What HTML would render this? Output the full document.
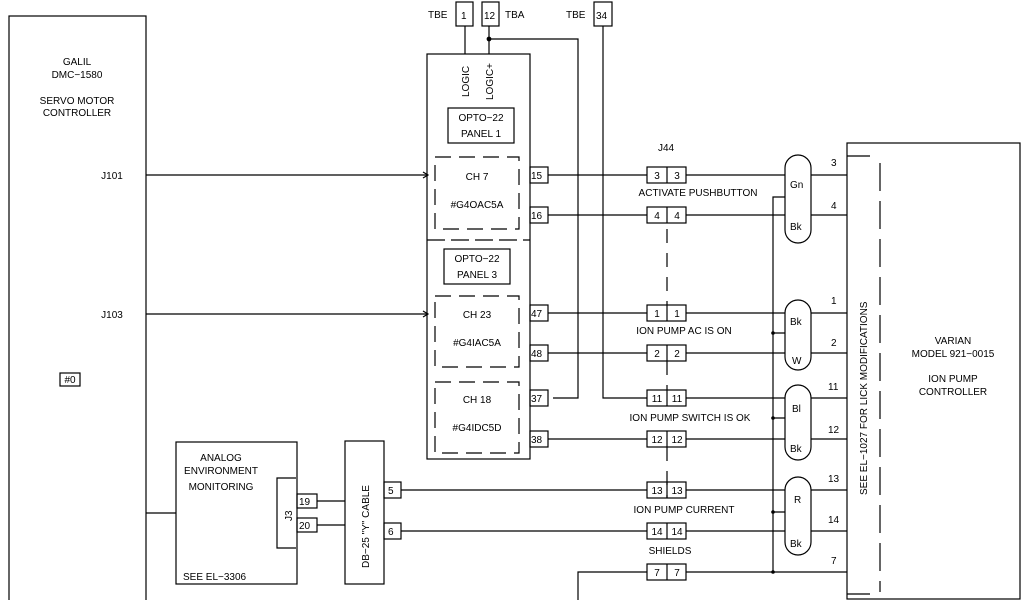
<!DOCTYPE html><html><head><style>body{margin:0;background:#fff}svg{display:block}text{font-family:"Liberation Sans",sans-serif;font-size:10px;fill:#000}</style></head><body>
<svg width="1024" height="600" viewBox="0 0 1024 600" xmlns="http://www.w3.org/2000/svg" stroke="#000" stroke-width="1.2" fill="none">
<!-- left controller -->
<rect x="9" y="16" width="137" height="600"/>
<g stroke="none" text-anchor="middle">
<text x="77" y="65">GALIL</text><text x="77" y="78">DMC−1580</text>
<text x="77" y="104">SERVO MOTOR</text><text x="77" y="116">CONTROLLER</text>
<text x="112" y="179">J101</text><text x="112" y="318">J103</text>
<text x="70" y="383">#0</text></g>
<rect x="60" y="373" width="20" height="13"/>
<line x1="146" y1="175" x2="428" y2="175"/><line x1="146" y1="314" x2="428" y2="314"/>
<path d="M423 172 L428 175 L423 178 M423 311 L428 314 L423 317"/>
<!-- TBE/TBA -->
<rect x="456" y="2" width="17" height="24"/><rect x="482" y="2" width="17" height="24"/><rect x="594" y="2" width="18" height="24"/>
<g stroke="none"><text x="428" y="18">TBE</text><text x="461" y="19">1</text><text x="484" y="19">12</text><text x="505" y="18">TBA</text><text x="566" y="18">TBE</text><text x="596" y="19">34</text></g>
<line x1="465" y1="26" x2="465" y2="54"/><line x1="489" y1="26" x2="489" y2="54"/>
<circle cx="489" cy="39" r="1.8" fill="#000"/>
<polyline points="489,39 578,39 578,398 553,398"/>
<polyline points="603,26 603,398 647,398"/>
<!-- opto box -->
<rect x="427" y="54" width="103" height="405"/>
<line x1="427" y1="240" x2="530" y2="240" stroke-dasharray="18,6"/>
<g stroke="none"><text transform="translate(469,97) rotate(-90)">LOGIC</text><text transform="translate(493,100) rotate(-90)">LOGIC+</text></g>
<rect x="448" y="108" width="66" height="35"/><rect x="444" y="249" width="66" height="35"/>
<g stroke="none" text-anchor="middle"><text x="481" y="121">OPTO−22</text><text x="481" y="137">PANEL 1</text>
<text x="477" y="262">OPTO−22</text><text x="477" y="278">PANEL 3</text>
<text x="477" y="180">CH  7</text><text x="477" y="208">#G4OAC5A</text>
<text x="477" y="318">CH  23</text><text x="477" y="346">#G4IAC5A</text>
<text x="477" y="403">CH  18</text><text x="477" y="431">#G4IDC5D</text></g>
<g stroke-dasharray="16,8"><rect x="435" y="157" width="84" height="72"/><rect x="435" y="296" width="84" height="71"/><rect x="435" y="382" width="84" height="71"/></g>
<!-- terminals -->
<g><rect x="530" y="167" width="18" height="16"/><rect x="530" y="207" width="18" height="16"/><rect x="530" y="305" width="18" height="16"/><rect x="530" y="345" width="18" height="16"/><rect x="530" y="390" width="18" height="16"/><rect x="530" y="431" width="18" height="16"/></g>
<g stroke="none"><text x="531" y="179">15</text><text x="531" y="219">16</text><text x="531" y="317">47</text><text x="531" y="357">48</text><text x="531" y="402">37</text><text x="531" y="443">38</text></g>
<g><line x1="548" y1="175" x2="647" y2="175"/><line x1="548" y1="215" x2="647" y2="215"/><line x1="548" y1="313" x2="647" y2="313"/><line x1="548" y1="353" x2="647" y2="353"/><line x1="548" y1="439" x2="647" y2="439"/>
<line x1="401" y1="490" x2="647" y2="490"/><line x1="401" y1="531" x2="647" y2="531"/>
<polyline points="578,600 578,572 647,572"/></g>
<!-- J44 -->
<text x="658" y="151" stroke="none">J44</text>
<g stroke="none" text-anchor="middle"><text x="698" y="196">ACTIVATE PUSHBUTTON</text><text x="684" y="334">ION PUMP AC IS ON</text><text x="690" y="421">ION PUMP SWITCH IS OK</text><text x="684" y="513">ION PUMP CURRENT</text><text x="670" y="554">SHIELDS</text></g>
<g>
<rect x="647" y="167" width="39" height="16"/><rect x="647" y="207" width="39" height="16"/><rect x="647" y="305" width="39" height="16"/><rect x="647" y="345" width="39" height="16"/><rect x="647" y="390" width="39" height="16"/><rect x="647" y="431" width="39" height="16"/><rect x="647" y="482" width="39" height="16"/><rect x="647" y="523" width="39" height="16"/><rect x="647" y="564" width="39" height="16"/>
<path d="M667 167V183M667 207V223M667 305V321M667 345V361M667 390V406M667 431V447M667 482V498M667 523V539M667 564V580"/>
</g>
<g stroke-dasharray="14,10"><line x1="667" y1="229" x2="667" y2="305"/><line x1="667" y1="361" x2="667" y2="390"/><line x1="667" y1="447" x2="667" y2="498"/></g>
<g stroke="none" text-anchor="middle" font-size="10">
<text x="657" y="179">3</text><text x="677" y="179">3</text><text x="657" y="219">4</text><text x="677" y="219">4</text>
<text x="657" y="317">1</text><text x="677" y="317">1</text><text x="657" y="357">2</text><text x="677" y="357">2</text>
<text x="657" y="402">11</text><text x="677" y="402">11</text><text x="657" y="443">12</text><text x="677" y="443">12</text>
<text x="657" y="494">13</text><text x="677" y="494">13</text><text x="657" y="535">14</text><text x="677" y="535">14</text>
<text x="657" y="576">7</text><text x="677" y="576">7</text></g>
<g><line x1="686" y1="175" x2="847" y2="175"/><line x1="686" y1="215" x2="847" y2="215"/><line x1="686" y1="313" x2="847" y2="313"/><line x1="686" y1="353" x2="847" y2="353"/><line x1="686" y1="398" x2="847" y2="398"/><line x1="686" y1="439" x2="847" y2="439"/><line x1="686" y1="490" x2="847" y2="490"/><line x1="686" y1="531" x2="847" y2="531"/><line x1="686" y1="572" x2="847" y2="572"/></g>
<!-- ovals -->
<g fill="#fff"><rect x="785" y="155" width="26" height="88" rx="13"/><rect x="785" y="300" width="26" height="70" rx="13"/><rect x="785" y="385" width="26" height="75" rx="13"/><rect x="785" y="477" width="26" height="78" rx="13"/></g>
<g stroke="none" font-size="9"><text x="790" y="188">Gn</text><text x="790" y="230">Bk</text><text x="790" y="325">Bk</text><text x="792" y="364">W</text><text x="792" y="412">Bl</text><text x="790" y="452">Bk</text><text x="794" y="503">R</text><text x="790" y="547">Bk</text></g>
<polyline points="785,197 773,197 773,572"/>
<path d="M773 333H785M773 418H785M773 512H785"/>
<g fill="#000" stroke="none"><circle cx="773" cy="333" r="1.8"/><circle cx="773" cy="418" r="1.8"/><circle cx="773" cy="512" r="1.8"/><circle cx="773" cy="572" r="1.8"/></g>
<g stroke="none"><text x="831" y="166">3</text><text x="831" y="209">4</text><text x="831" y="304">1</text><text x="831" y="346">2</text><text x="828" y="390">11</text><text x="828" y="433">12</text><text x="828" y="482">13</text><text x="828" y="523">14</text><text x="831" y="564">7</text></g>
<!-- Varian -->
<rect x="847" y="143" width="173" height="456"/>
<path d="M847 156H870M847 594H870"/>
<line x1="880" y1="163" x2="880" y2="592" stroke-dasharray="28,10"/>
<text transform="translate(867,495) rotate(-90)" stroke="none">SEE EL−1027 FOR LICK MODIFICATIONS</text>
<g stroke="none" text-anchor="middle"><text x="953" y="344">VARIAN</text><text x="953" y="357">MODEL 921−0015</text><text x="953" y="382">ION PUMP</text><text x="953" y="395">CONTROLLER</text></g>
<!-- analog -->
<line x1="146" y1="513" x2="176" y2="513"/>
<rect x="176" y="442" width="121" height="142"/>
<g stroke="none" text-anchor="middle"><text x="221" y="461">ANALOG</text><text x="221" y="474">ENVIRONMENT</text><text x="221" y="490">MONITORING</text></g>
<text x="183" y="580" stroke="none">SEE EL−3306</text>
<path d="M296 478H277V548H296"/>
<text transform="translate(292,521) rotate(-90)" stroke="none">J3</text>
<rect x="297" y="494" width="20" height="14"/><rect x="297" y="518" width="20" height="14"/>
<g stroke="none"><text x="299" y="505">19</text><text x="299" y="529">20</text></g>
<path d="M317 501H345M317 525H345"/>
<rect x="345" y="441" width="39" height="143"/>
<text transform="translate(369,568) rotate(-90)" stroke="none">DB−25 "Y" CABLE</text>
<rect x="384" y="482" width="17" height="16"/><rect x="384" y="523" width="17" height="16"/>
<g stroke="none"><text x="388" y="494">5</text><text x="388" y="535">6</text></g>
</svg></body></html>
